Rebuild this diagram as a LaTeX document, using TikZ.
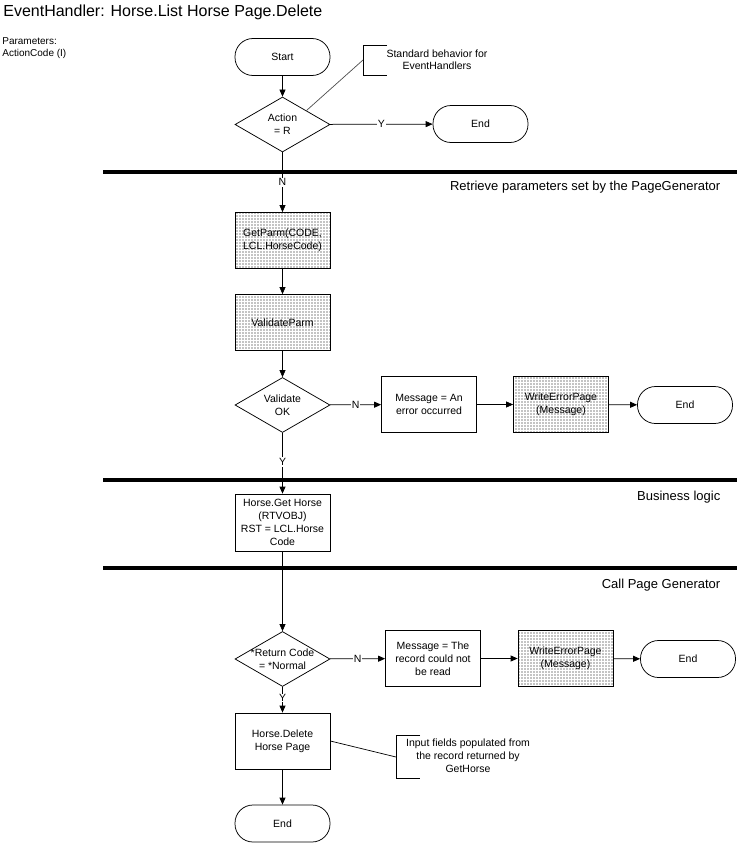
\documentclass[tikz,border=0pt]{standalone}
\usepackage{fontspec}
\setmainfont{Liberation Sans}
\usetikzlibrary{shapes.geometric,arrows.meta,patterns.meta}
\begin{document}
\begin{tikzpicture}[x=1pt,y=-1pt,line width=0.75pt,
  every node/.style={font=\fontsize{10.5}{13}\selectfont},
  term/.style={draw,rectangle,rounded corners=18pt,minimum width=95pt,minimum height=37pt,inner sep=0pt},
  proc/.style={draw,rectangle,minimum width=95pt,minimum height=56pt,align=center,inner sep=1pt},
  dotproc/.style={proc,pattern={Dots[distance=3pt,radius=0.55pt]}},
  dec/.style={draw,diamond,minimum width=95pt,minimum height=55pt,inner sep=0pt},
  flow/.style={draw,-{Triangle[length=7pt,width=6pt]}},
  lab/.style={fill=white,inner sep=1pt},
  lane/.style={line width=3.5pt},
  lanetext/.style={anchor=east,font=\fontsize{13}{15}\selectfont},
  notebr/.style={draw,line width=0.7pt},
  notecon/.style={draw,gray!60!black,line width=0.7pt}
]
\useasboundingbox (0,0) rectangle (737,843);

% title and parameters
\node[anchor=west,inner sep=0pt,font=\fontsize{16}{18}\selectfont] (title) at (3,12) {EventHandler: Horse.List Horse Page.Delete};
\node[anchor=north west,align=left,inner sep=0pt,font=\fontsize{10}{12}\selectfont] (params) at (2,37) {Parameters:\\ActionCode (I)};

% lanes
\coordinate (l1a) at (103,172); \coordinate (l1b) at (737,172);
\coordinate (l2a) at (103,480); \coordinate (l2b) at (737,480);
\coordinate (l3a) at (103,568); \coordinate (l3b) at (737,568);
\draw[lane] (l1a) -- (l1b);
\draw[lane] (l2a) -- (l2b);
\draw[lane] (l3a) -- (l3b);
\node[lanetext] (lt1) at (724,187) {Retrieve parameters set by the PageGenerator};
\node[lanetext] (lt2) at (724,497) {Business logic};
\node[lanetext] (lt3) at (724,585) {Call Page Generator};

% nodes
\node[term] (start) at (282.5,57) {Start};
\node[dec] (d1) at (282.5,124.5) {};
\node[align=center,inner sep=0pt] (d1t) at (d1) {Action\\= R};
\node[term] (e1) at (480.5,124) {End};

\node[dotproc] (gp) at (282.5,240.5) {GetParm(CODE,\\LCL.HorseCode)};
\node[dotproc] (vp) at (282.5,322.5) {ValidateParm};
\node[dec] (d2) at (282.5,405) {};
\node[align=center,inner sep=0pt] (d2t) at (d2) {Validate\\OK};
\node[proc] (m1) at (429,404.5) {Message = An\\error occurred};
\node[dotproc] (w1) at (561,404.5) {WriteErrorPage\\(Message)};
\node[term] (e2) at (685,405) {End};

\node[proc,minimum height=57pt] (gh) at (282.5,522.5) {Horse.Get Horse\\(RTVOBJ)\\RST = LCL.Horse\\Code};

\node[dec] (d3) at (282.5,659) {};
\node[align=center,inner sep=0pt] (d3t) at (d3) {*Return Code\\= *Normal};
\node[proc] (m2) at (433,658.5) {Message = The\\record could not\\be read};
\node[dotproc] (w2) at (565.5,658.5) {WriteErrorPage\\(Message)};
\node[term] (e3) at (688,659) {End};

\node[proc] (del) at (282.5,741) {Horse.Delete\\Horse Page};
\node[term] (e4) at (282.5,823.5) {End};

% notes
\coordinate (n1a) at (387,45); \coordinate (n1b) at (363,45);
\coordinate (n1c) at (363,75); \coordinate (n1d) at (387,75);
\coordinate (n1m) at (363,60);
\draw[notebr] (n1a) -- (n1b) -- (n1c) -- (n1d);
\node[align=center,inner sep=0pt,font=\fontsize{10.5}{12.5}\selectfont] (n1t) at (437,59.5) {Standard behavior for\\EventHandlers};
\draw[notecon] (d1.north east) -- (n1m);

\coordinate (n2a) at (420,735); \coordinate (n2b) at (396,735);
\coordinate (n2c) at (396,778); \coordinate (n2d) at (420,778);
\coordinate (n2m) at (396,757);
\draw[notebr] (n2a) -- (n2b) -- (n2c) -- (n2d);
\node[align=center,inner sep=0pt,font=\fontsize{10.5}{13}\selectfont] (n2t) at (468,756) {Input fields populated from\\the record returned by\\GetHorse};
\draw[notebr] (del.east) -- (n2m);

% connectors
\draw[flow] (start) -- (d1);
\draw[flow] (d1) -- node[lab]{Y} (e1);
\draw[flow] (d1) -- node[lab,pos=0.5]{N} (gp);
\draw[flow] (gp) -- (vp);
\draw[flow] (vp) -- (d2);
\draw[flow] (d2) -- node[lab]{N} (m1);
\draw[flow] (m1) -- (w1);
\draw[flow] (w1) -- (e2);
\draw[flow] (d2) -- node[lab,pos=0.48]{Y} (gh);
\draw[flow] (gh) -- (d3);
\draw[flow] (d3) -- node[lab]{N} (m2);
\draw[flow] (m2) -- (w2);
\draw[flow] (w2) -- (e3);
\draw[flow] (d3) -- node[lab,pos=0.42,inner sep=0.5pt]{Y} (del);
\draw[flow] (del) -- (e4);
\end{tikzpicture}
\end{document}
